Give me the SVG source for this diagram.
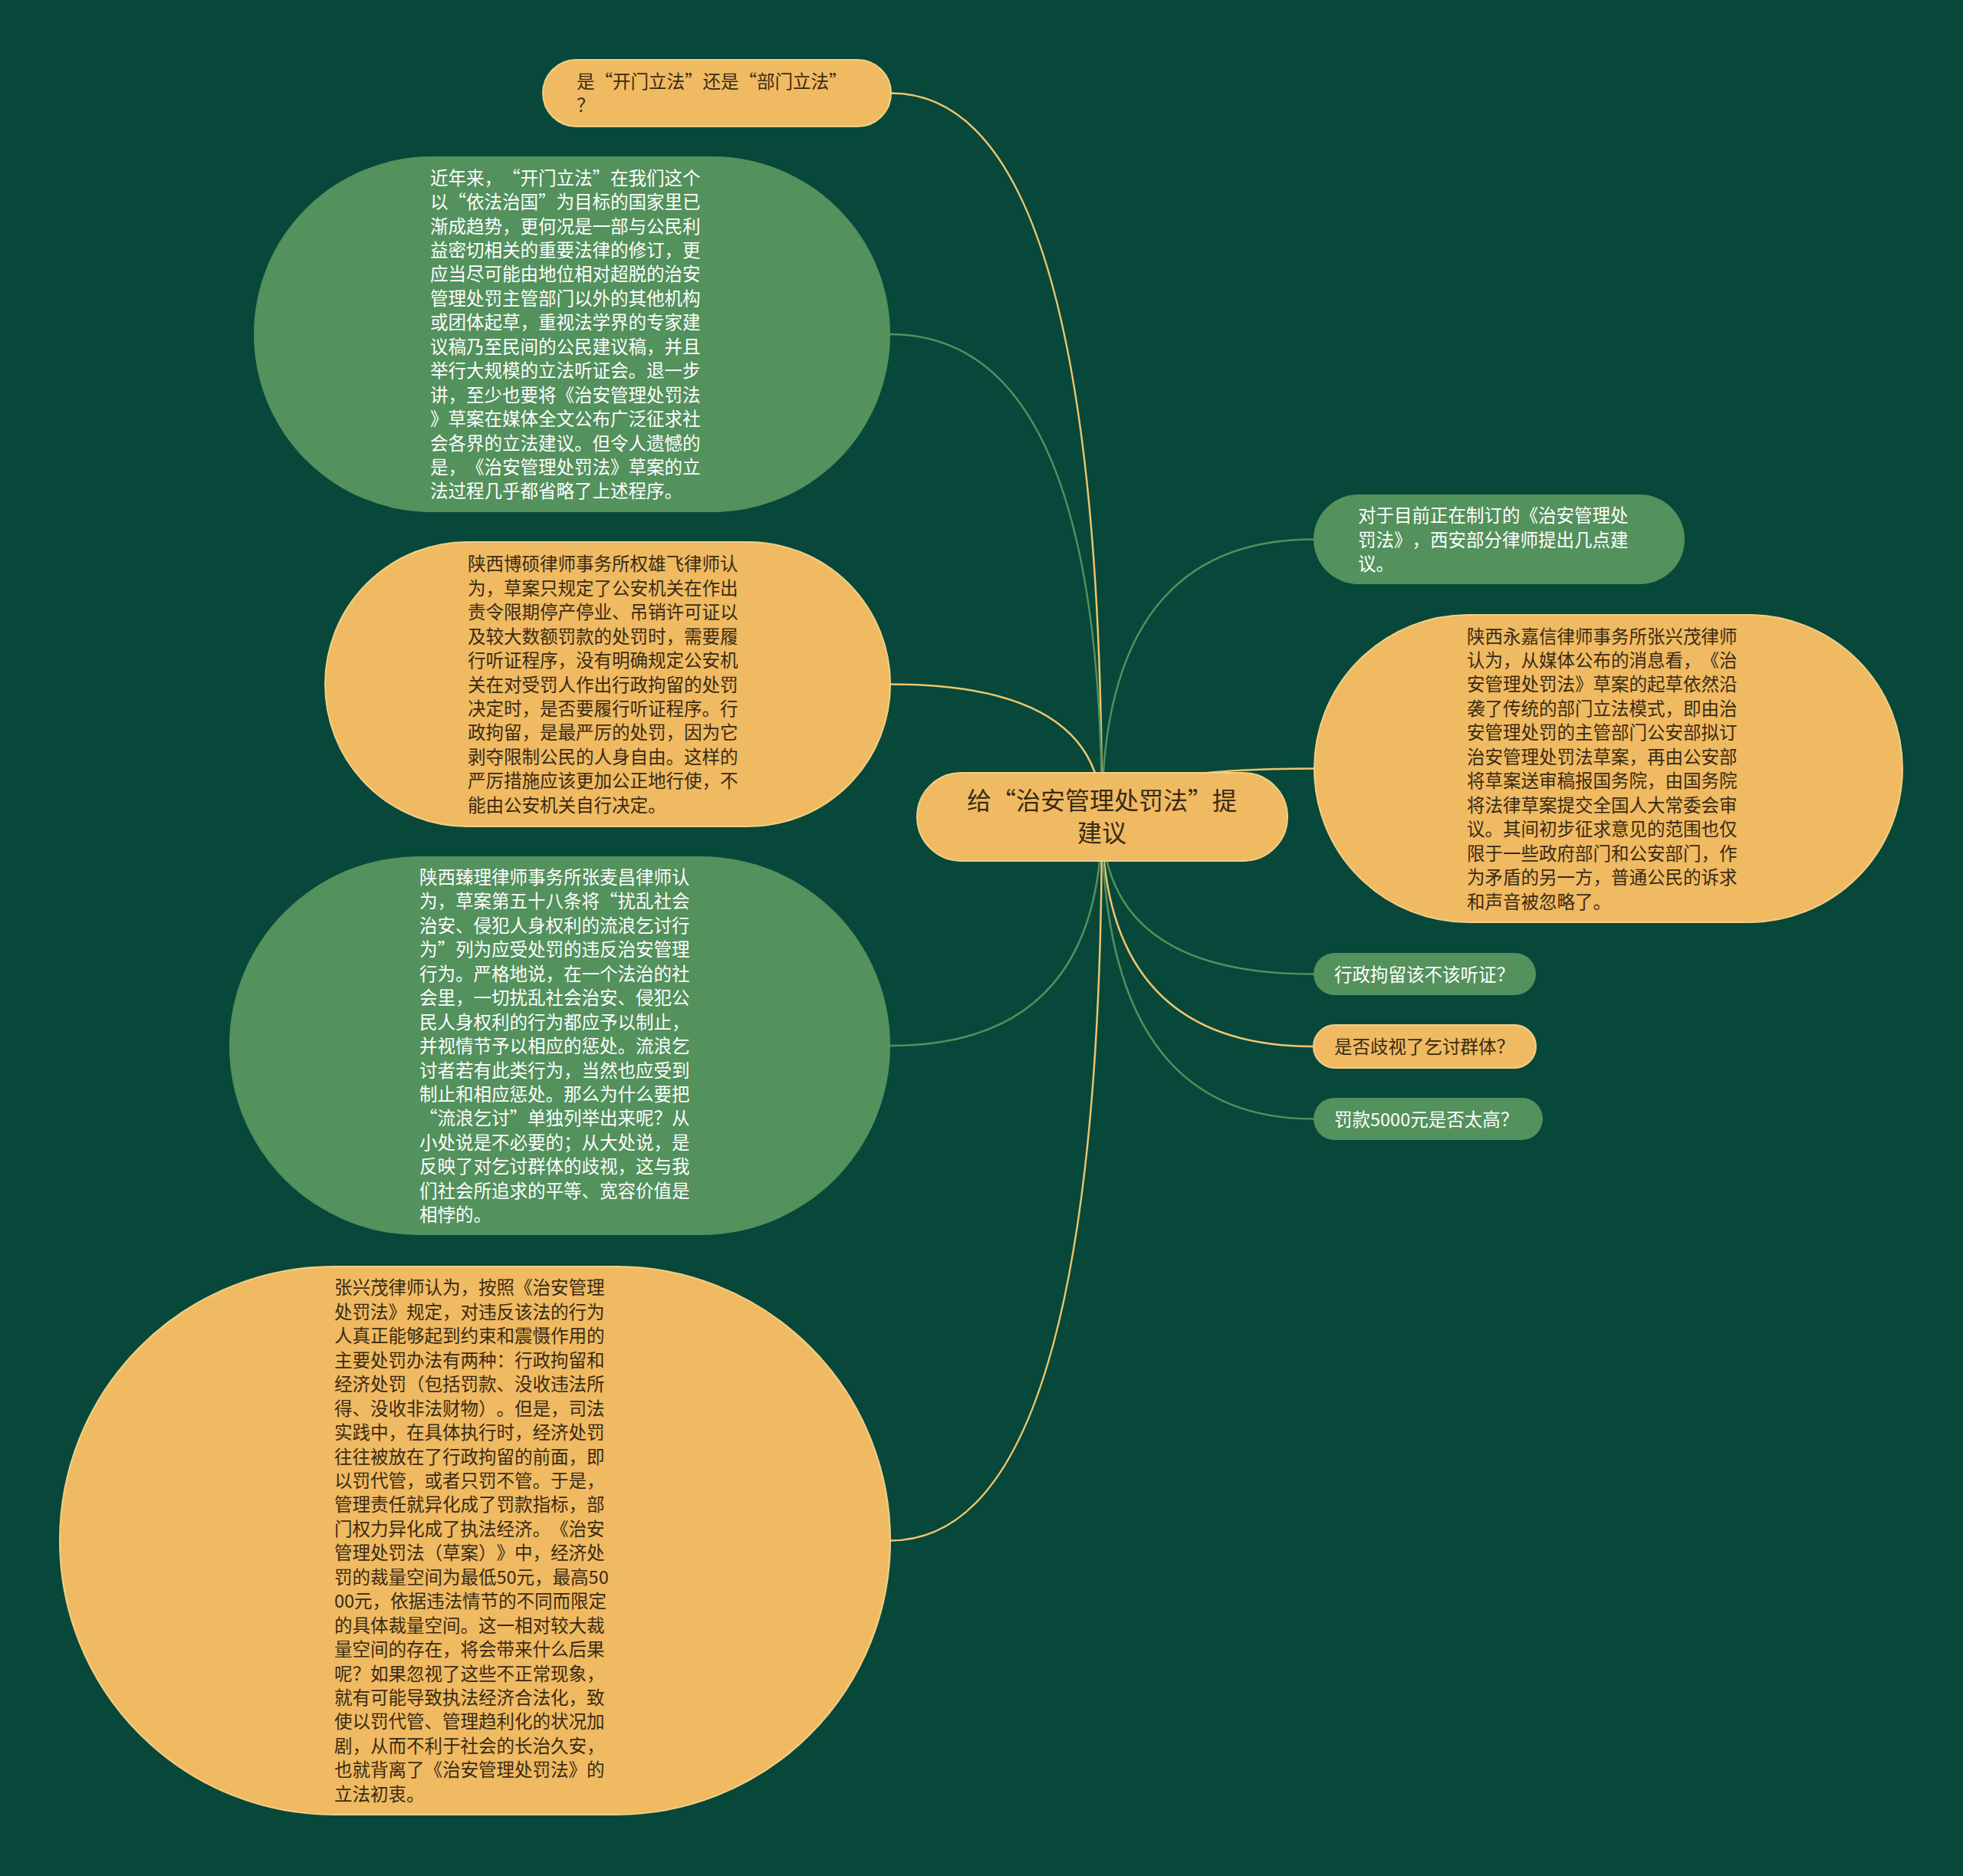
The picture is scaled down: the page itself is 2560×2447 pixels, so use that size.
<svg xmlns="http://www.w3.org/2000/svg" width="2560" height="2447" viewBox="0 0 2560 2447">
<style>
.bg{fill:#07483A}
.ny{fill:#EFBA62;stroke:#F4CF85;stroke-width:2}
.ng{fill:#53915D}
text{text-spacing-trim:space-all}
.t{font-family:"Noto Sans CJK SC","Noto Sans CJK JP",sans-serif;font-size:23.5px}
.ty{fill:#3A2A14}
.tg{fill:#FFFFFF}
.tc{font-family:"Noto Sans CJK SC","Noto Sans CJK JP",sans-serif;font-size:32px;fill:#3A2A14;text-anchor:middle}
.cy{fill:none;stroke:#EFC56C;stroke-width:2.5}
.cg{fill:none;stroke:#52905C;stroke-width:2.5}
</style>
<rect class="bg" x="0" y="0" width="2560" height="2447"/>
<g id="connectors">
<path class="cy" d="M1437 1065 Q1437 121.5 1162 121.5"/>
<path class="cg" d="M1437 1065 Q1437 436 1161 436"/>
<path class="cy" d="M1437 1065 Q1437 892.5 1161 892.5"/>
<path class="cg" d="M1437 1065 Q1437 1364 1161 1364"/>
<path class="cy" d="M1437 1065 Q1437 2009.5 1161 2009.5"/>
<path class="cg" d="M1437 1065 Q1437 703.5 1713 703.5"/>
<path class="cy" d="M1437 1065 Q1437 1002.5 1714 1002.5"/>
<path class="cg" d="M1437 1065 Q1437 1270.5 1713 1270.5"/>
<path class="cy" d="M1437 1065 Q1437 1365 1713 1365"/>
<path class="cg" d="M1437 1065 Q1437 1459.5 1713 1459.5"/>
</g>
<g id="center">
<rect class="ny" x="1196" y="1008" width="483" height="115" rx="57.5"/>
<text class="tc"><tspan x="1437" y="1056">给“治安管理处罚法”提</tspan><tspan x="1437" y="1098">建议</tspan></text>
</g>
<g id="n1">
<rect class="ny" x="708" y="78" width="454" height="87" rx="43.5"/>
<text class="t ty"><tspan x="752" y="115">是“开门立法”还是“部门立法”</tspan><tspan x="752" y="146">？</tspan></text>
</g>
<g id="n2">
<rect class="ng" x="331" y="204" width="830" height="464" rx="232"/>
<text class="t tg">
<tspan x="561" y="240.6">近年来，“开门立法”在我们这个</tspan>
<tspan x="561" y="272">以“依法治国”为目标的国家里已</tspan>
<tspan x="561" y="303.5">渐成趋势，更何况是一部与公民利</tspan>
<tspan x="561" y="334.9">益密切相关的重要法律的修订，更</tspan>
<tspan x="561" y="366.4">应当尽可能由地位相对超脱的治安</tspan>
<tspan x="561" y="397.8">管理处罚主管部门以外的其他机构</tspan>
<tspan x="561" y="429.3">或团体起草，重视法学界的专家建</tspan>
<tspan x="561" y="460.7">议稿乃至民间的公民建议稿，并且</tspan>
<tspan x="561" y="492.2">举行大规模的立法听证会。退一步</tspan>
<tspan x="561" y="523.6">讲，至少也要将《治安管理处罚法</tspan>
<tspan x="561" y="555.1">》草案在媒体全文公布广泛征求社</tspan>
<tspan x="561" y="586.5">会各界的立法建议。但令人遗憾的</tspan>
<tspan x="561" y="618">是，《治安管理处罚法》草案的立</tspan>
<tspan x="561" y="649.4">法过程几乎都省略了上述程序。</tspan>
</text>
</g>
<g id="n3">
<rect class="ny" x="424" y="707" width="737" height="371" rx="185.5"/>
<text class="t ty">
<tspan x="610" y="744.3">陕西博硕律师事务所权雄飞律师认</tspan>
<tspan x="610" y="775.7">为，草案只规定了公安机关在作出</tspan>
<tspan x="610" y="807.2">责令限期停产停业、吊销许可证以</tspan>
<tspan x="610" y="838.6">及较大数额罚款的处罚时，需要履</tspan>
<tspan x="610" y="870.1">行听证程序，没有明确规定公安机</tspan>
<tspan x="610" y="901.5">关在对受罚人作出行政拘留的处罚</tspan>
<tspan x="610" y="933">决定时，是否要履行听证程序。行</tspan>
<tspan x="610" y="964.4">政拘留，是最严厉的处罚，因为它</tspan>
<tspan x="610" y="995.9">剥夺限制公民的人身自由。这样的</tspan>
<tspan x="610" y="1027.3">严厉措施应该更加公正地行使，不</tspan>
<tspan x="610" y="1058.8">能由公安机关自行决定。</tspan>
</text>
</g>
<g id="n4">
<rect class="ng" x="299" y="1117" width="862" height="494" rx="247"/>
<text class="t tg">
<tspan x="547" y="1152.9">陕西臻理律师事务所张麦昌律师认</tspan>
<tspan x="547" y="1184.3">为，草案第五十八条将“扰乱社会</tspan>
<tspan x="547" y="1215.8">治安、侵犯人身权利的流浪乞讨行</tspan>
<tspan x="547" y="1247.2">为”列为应受处罚的违反治安管理</tspan>
<tspan x="547" y="1278.7">行为。严格地说，在一个法治的社</tspan>
<tspan x="547" y="1310.1">会里，一切扰乱社会治安、侵犯公</tspan>
<tspan x="547" y="1341.6">民人身权利的行为都应予以制止，</tspan>
<tspan x="547" y="1373">并视情节予以相应的惩处。流浪乞</tspan>
<tspan x="547" y="1404.5">讨者若有此类行为，当然也应受到</tspan>
<tspan x="547" y="1435.9">制止和相应惩处。那么为什么要把</tspan>
<tspan x="547" y="1467.4">“流浪乞讨”单独列举出来呢？从</tspan>
<tspan x="547" y="1498.8">小处说是不必要的；从大处说，是</tspan>
<tspan x="547" y="1530.3">反映了对乞讨群体的歧视，这与我</tspan>
<tspan x="547" y="1561.7">们社会所追求的平等、宽容价值是</tspan>
<tspan x="547" y="1593.2">相悖的。</tspan>
</text>
</g>
<g id="n5">
<rect class="ny" x="78" y="1652" width="1083" height="715" rx="357.5"/>
<text class="t ty">
<tspan x="436" y="1688.3">张兴茂律师认为，按照《治安管理</tspan>
<tspan x="436" y="1719.8">处罚法》规定，对违反该法的行为</tspan>
<tspan x="436" y="1751.2">人真正能够起到约束和震慑作用的</tspan>
<tspan x="436" y="1782.7">主要处罚办法有两种：行政拘留和</tspan>
<tspan x="436" y="1814.1">经济处罚（包括罚款、没收违法所</tspan>
<tspan x="436" y="1845.6">得、没收非法财物）。但是，司法</tspan>
<tspan x="436" y="1877">实践中，在具体执行时，经济处罚</tspan>
<tspan x="436" y="1908.5">往往被放在了行政拘留的前面，即</tspan>
<tspan x="436" y="1939.9">以罚代管，或者只罚不管。于是，</tspan>
<tspan x="436" y="1971.4">管理责任就异化成了罚款指标，部</tspan>
<tspan x="436" y="2002.8">门权力异化成了执法经济。《治安</tspan>
<tspan x="436" y="2034.3">管理处罚法（草案）》中，经济处</tspan>
<tspan x="436" y="2065.7">罚的裁量空间为最低50元，最高50</tspan>
<tspan x="436" y="2097.2">00元，依据违法情节的不同而限定</tspan>
<tspan x="436" y="2128.6">的具体裁量空间。这一相对较大裁</tspan>
<tspan x="436" y="2160.1">量空间的存在，将会带来什么后果</tspan>
<tspan x="436" y="2191.5">呢？如果忽视了这些不正常现象，</tspan>
<tspan x="436" y="2223">就有可能导致执法经济合法化，致</tspan>
<tspan x="436" y="2254.4">使以罚代管、管理趋利化的状况加</tspan>
<tspan x="436" y="2285.9">剧，从而不利于社会的长治久安，</tspan>
<tspan x="436" y="2317.3">也就背离了《治安管理处罚法》的</tspan>
<tspan x="436" y="2348.8">立法初衷。</tspan>
</text>
</g>
<g id="n6">
<rect class="ng" x="1713" y="645" width="484" height="117" rx="58.5"/>
<text class="t tg">
<tspan x="1771" y="681">对于目前正在制订的《治安管理处</tspan>
<tspan x="1771" y="712.5">罚法》，西安部分律师提出几点建</tspan>
<tspan x="1771" y="743.9">议。</tspan>
</text>
</g>
<g id="n7">
<rect class="ny" x="1714" y="802" width="767" height="401" rx="200.5"/>
<text class="t ty">
<tspan x="1913" y="838.5">陕西永嘉信律师事务所张兴茂律师</tspan>
<tspan x="1913" y="870">认为，从媒体公布的消息看，《治</tspan>
<tspan x="1913" y="901.4">安管理处罚法》草案的起草依然沿</tspan>
<tspan x="1913" y="932.9">袭了传统的部门立法模式，即由治</tspan>
<tspan x="1913" y="964.3">安管理处罚的主管部门公安部拟订</tspan>
<tspan x="1913" y="995.8">治安管理处罚法草案，再由公安部</tspan>
<tspan x="1913" y="1027.2">将草案送审稿报国务院，由国务院</tspan>
<tspan x="1913" y="1058.7">将法律草案提交全国人大常委会审</tspan>
<tspan x="1913" y="1090.1">议。其间初步征求意见的范围也仅</tspan>
<tspan x="1913" y="1121.6">限于一些政府部门和公安部门，作</tspan>
<tspan x="1913" y="1153">为矛盾的另一方，普通公民的诉求</tspan>
<tspan x="1913" y="1184.5">和声音被忽略了。</tspan>
</text>
</g>
<g id="n8">
<rect class="ng" x="1713" y="1243" width="290" height="55" rx="27.5"/>
<text class="t tg" x="1740" y="1279.5">行政拘留该不该听证？</text>
</g>
<g id="n9">
<rect class="ny" x="1713" y="1337" width="290" height="56" rx="28"/>
<text class="t ty" x="1740" y="1374">是否歧视了乞讨群体？</text>
</g>
<g id="n10">
<rect class="ng" x="1713" y="1432" width="299" height="55" rx="27.5"/>
<text class="t tg" x="1740" y="1468.5">罚款5000元是否太高？</text>
</g>
</svg>
